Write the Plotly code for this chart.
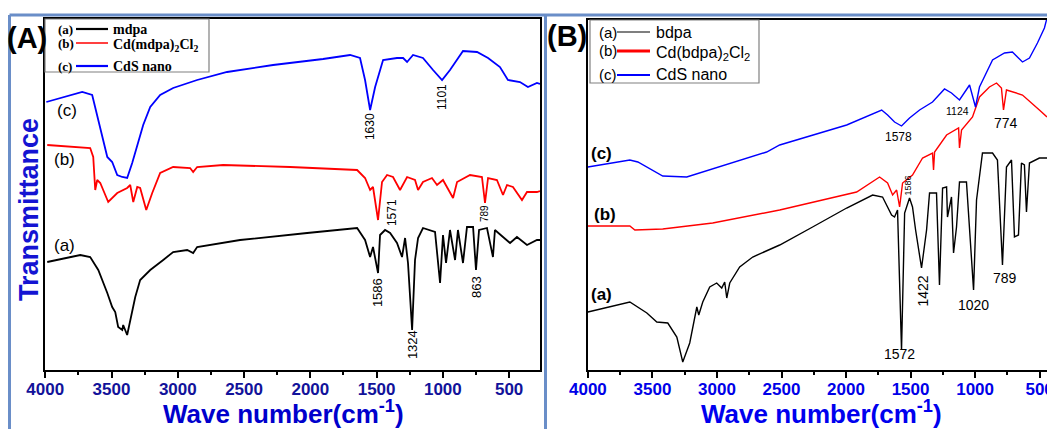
import plotly.graph_objects as go

W, H = 1047, 429

# ---------------- Panel A data (wavenumber cm-1, transmittance offset a.u.) ----------------
a_c_wn = [3992, 3887, 3721, 3646, 3600, 3563, 3532, 3495, 3457, 3419, 3382, 3344, 3306, 3261, 3208,
          3133, 3035, 2854, 2628, 2281, 1904, 1700, 1625, 1587, 1549, 1511, 1451, 1346, 1300, 1270,
          1225, 1150, 1074, 1006, 946, 848, 742, 659, 569, 509, 418, 358, 290, 267]
a_c_t = [268, 272, 278, 275, 250, 230, 213, 208, 195, 193, 192, 207, 225, 245, 263,
         275, 282, 290, 298, 305, 311, 315, 312, 290, 260, 283, 310, 312, 312, 308,
         315, 312, 300, 290, 300, 319, 318, 312, 303, 290, 288, 283, 287, 286]

a_b_wn = [3985, 3661, 3638, 3623, 3608, 3585, 3525, 3457, 3382, 3359, 3336, 3306, 3284, 3238, 3193,
          3133, 3035, 2907, 2884, 2854, 2658, 2152, 1647, 1587, 1549, 1527, 1489, 1459, 1421, 1376,
          1323, 1270, 1210, 1187, 1150, 1082, 1044, 999, 923, 893, 795, 705, 682, 659, 592,
          546, 516, 471, 403, 365, 290, 267]
a_b_t = [225, 222, 213, 180, 190, 187, 168, 177, 182, 185, 168, 183, 182, 160, 177,
         197, 203, 202, 198, 203, 205, 203, 200, 192, 180, 183, 150, 188, 195, 193,
         180, 193, 190, 180, 188, 192, 185, 190, 172, 188, 195, 193, 167, 192, 190,
         175, 185, 183, 170, 178, 178, 179]

a_a_wn = [3985, 3736, 3661, 3600, 3532, 3495, 3472, 3450, 3419, 3412, 3382, 3359, 3321, 3284, 3208,
          3110, 3035, 2929, 2884, 2854, 2530, 2024, 1647, 1587, 1549, 1527, 1489, 1474, 1436, 1398,
          1346, 1308, 1285, 1263, 1232, 1210, 1187, 1150, 1059, 1021, 999, 976, 946, 908, 886,
          848, 818, 772, 750, 727, 667, 622, 607, 546, 493, 441, 365, 290, 267]
a_a_t = [108, 115, 113, 100, 77, 63, 58, 43, 40, 45, 35, 50, 73, 90, 100,
         110, 118, 120, 117, 123, 130, 137, 142, 130, 113, 123, 97, 135, 140, 137,
         127, 113, 132, 107, 40, 110, 132, 142, 138, 87, 135, 107, 140, 110, 140,
         107, 143, 143, 100, 140, 142, 113, 140, 133, 127, 133, 125, 130, 130]

# peak labels panel A
a_peak_text = ["1630", "1101", "1571", "789", "1586", "1324", "863"]
a_peak_wn = [1549, 1006, 1383, 682, 1496, 1232, 750]
a_peak_t = [243, 273, 157, 156, 77, 25, 83]
a_peak_size = [12, 12, 12, 10, 13, 13, 13]

a_curve_lbl = ["(c)", "(b)", "(a)"]
a_curve_wn = [3834, 3857, 3857]
a_curve_t = [259, 210, 124]

# ---------------- Panel B data ----------------
b_c_wn = [4000, 3675, 3613, 3420, 3234, 3110, 2955, 2769, 2615, 2514, 2259, 1995, 1724, 1678, 1624,
          1570, 1508, 1430, 1330, 1237, 1183, 1121, 1043, 997, 966, 865, 772, 711, 672, 633,
          579, 517, 463, 443]
b_c_t = [203, 210, 208, 194, 193, 198, 205, 212, 218, 225, 235, 245, 260, 255, 248,
         244, 252, 260, 268, 281, 277, 270, 285, 263, 283, 310, 317, 318, 313, 308,
         312, 327, 342, 352]

b_b_wn = [4000, 3675, 3636, 3420, 3033, 2514, 1918, 1740, 1678, 1639, 1608, 1585, 1562, 1485, 1407,
          1330, 1322, 1314, 1221, 1128, 1121, 1105, 1020, 966, 889, 834, 796, 780, 757, 633,
          502, 443]
b_b_t = [144, 144, 140, 141, 147, 160, 178, 193, 187, 175, 180, 163, 187, 195, 212,
         217, 200, 218, 235, 242, 222, 240, 253, 273, 283, 287, 282, 260, 280, 275,
         260, 253]

b_a_wn = [4000, 3675, 3543, 3466, 3381, 3311, 3265, 3211, 3156, 3141, 3110, 3056, 3002, 2963, 2940,
          2924, 2901, 2824, 2723, 2514, 2259, 1995, 1794, 1717, 1647, 1624, 1601, 1570, 1546, 1508,
          1485, 1461, 1415, 1376, 1353, 1299, 1276, 1252, 1221, 1214, 1183, 1167, 1144, 1121, 1067,
          1028, 1012, 989, 943, 865, 827, 796, 788, 757, 718, 695, 664, 641, 618, 602,
          579, 502, 443]
b_a_t = [58, 68, 57, 48, 47, 33, 8, 27, 63, 55, 68, 83, 87, 82, 88,
         72, 87, 103, 113, 125, 143, 162, 175, 173, 155, 153, 160, 20, 157, 172,
         163, 140, 102, 140, 177, 177, 85, 182, 183, 153, 173, 117, 143, 188, 188,
         103, 80, 170, 217, 217, 210, 127, 105, 203, 210, 133, 135, 207, 205, 158,
         207, 212, 212]

b_peak_text = ["1578", "1124", "774", "1586", "1572", "1422", "1020", "789"]
b_peak_wn = [1593, 1136, 757, 1523, 1585, 1407, 1012, 765]
b_peak_t = [233, 259, 247, 184, 16, 79, 65, 92]
b_peak_angle = [0, 0, 0, -90, 0, -90, 0, 0]
b_peak_size = [12, 10.5, 14, 9, 14, 14, 14, 14]

b_curve_lbl = ["(c)", "(b)", "(a)"]
b_curve_wn = [3892, 3868, 3892]
b_curve_t = [217, 156, 76]

tick_vals = [4000, 3500, 3000, 2500, 2000, 1500, 1000, 500]
tick_text = ["4000", "3500", "3000", "2500", "2000", "1500", "1000", "500"]
minor_vals = [3750, 3250, 2750, 2250, 1750, 1250, 750]

SANS = "Liberation Sans, Arial, sans-serif"
SERIF = "Liberation Serif, Times New Roman, serif"


def X(p):
    return p / W


def Y(p):
    return 1 - p / H


fig = go.Figure()

for wn, t, col in [(a_a_wn, a_a_t, "#000000"), (a_b_wn, a_b_t, "#ff0000"), (a_c_wn, a_c_t, "#0000ff")]:
    fig.add_trace(go.Scatter(x=wn, y=t, mode="lines", line=dict(color=col, width=1.8),
                             xaxis="x", yaxis="y", showlegend=False, hoverinfo="skip"))
for wn, t, col in [(b_a_wn, b_a_t, "#000000"), (b_b_wn, b_b_t, "#ff0000"), (b_c_wn, b_c_t, "#0000ff")]:
    fig.add_trace(go.Scatter(x=wn, y=t, mode="lines", line=dict(color=col, width=1.4),
                             xaxis="x2", yaxis="y2", showlegend=False, hoverinfo="skip"))


def xaxis(domain, rng, anchor, color):
    return dict(domain=domain, range=rng, anchor=anchor, tickmode="array", tickvals=tick_vals,
                ticktext=tick_text, ticks="outside", ticklen=6, tickwidth=1.5, tickcolor="black",
                minor=dict(ticks="outside", ticklen=3, tickwidth=1.5, tickcolor="black",
                           tickmode="array", tickvals=minor_vals),
                tickfont=dict(family=SANS, size=17, color=color, weight="bold"),
                ticklabeloverflow="allow", ticklabelstandoff=-3,
                showline=True, linecolor="black", linewidth=1.5, mirror=True,
                showgrid=False, zeroline=False, automargin=False, fixedrange=True)


def yaxis(domain, rng, anchor, mirror):
    return dict(domain=domain, range=rng, anchor=anchor, showticklabels=False, ticks="",
                showline=True, linecolor="black", linewidth=1.5, mirror=mirror,
                showgrid=False, zeroline=False, automargin=False, fixedrange=True)


ybot = Y(370)
fig.update_layout(
    width=W, height=H, margin=dict(l=0, r=0, t=0, b=0),
    paper_bgcolor="white", plot_bgcolor="white",
    xaxis=xaxis([X(45), X(540)], [4002, 267], "y", "#12129a"),
    yaxis=yaxis([ybot, Y(19)], [0, 351], "x", True),
    xaxis2=xaxis([X(587.5), 1.0], [4003, 443], "y2", "#0000e8"),
    yaxis2=yaxis([ybot, Y(20)], [0, 350], "x2", True),
)

shapes = []
frame = "#6a8ec8"
shapes.append(dict(type="line", xref="paper", yref="paper", x0=X(9.5), x1=X(9.5), y0=Y(15), y1=0,
                   line=dict(color=frame, width=3)))
shapes.append(dict(type="line", xref="paper", yref="paper", x0=X(9.5), x1=1, y0=Y(15), y1=Y(15),
                   line=dict(color=frame, width=3)))
shapes.append(dict(type="line", xref="paper", yref="paper", x0=X(545.5), x1=X(545.5), y0=Y(15), y1=0,
                   line=dict(color=frame, width=3)))
# legend boxes
shapes.append(dict(type="rect", xref="paper", yref="paper", x0=X(45), x1=X(209), y0=Y(72), y1=Y(19),
                   line=dict(color="#808080", width=1.2), fillcolor="white"))
shapes.append(dict(type="rect", xref="paper", yref="paper", x0=X(590), x1=X(759), y0=Y(83), y1=Y(20),
                   line=dict(color="#808080", width=1.2), fillcolor="white"))

ann = []


def A(text, x, y, font, xref="paper", yref="paper", xanchor="center", yanchor="middle", angle=0):
    ann.append(dict(text=text, x=x, y=y, xref=xref, yref=yref, xanchor=xanchor, yanchor=yanchor,
                    showarrow=False, textangle=angle, font=font))


# legend A
legA_names = ["mdpa", "Cd(mdpa)<sub>2</sub>Cl<sub>2</sub>", "CdS nano"]
legA_tags = ["(a)", "(b)", "(c)"]
legA_cols = ["#000000", "#ff0000", "#0000ff"]
legA_y = [29, 43, 66]
legA_w = [2.2, 1.5, 2.2]
for tag, name, col, yy, lw in zip(legA_tags, legA_names, legA_cols, legA_y, legA_w):
    shapes.append(dict(type="line", xref="paper", yref="paper", x0=X(76), x1=X(108), y0=Y(yy), y1=Y(yy),
                       line=dict(color=col, width=lw)))
    A(tag, X(56), Y(yy), dict(family=SERIF, size=13, color="black", weight="bold"), xanchor="left")
    A(name, X(111), Y(yy) - (0.005 if "sub" in name else 0),
      dict(family=SERIF, size=14, color="black", weight="bold"), xanchor="left")
# legend B
legB_names = ["bdpa", "Cd(bdpa)<sub>2</sub>Cl<sub>2</sub>", "CdS nano"]
legB_y = [32, 51, 75]
legB_w = [1.2, 3, 1.8]
for tag, name, col, yy, lw in zip(legA_tags, legB_names, legA_cols, legB_y, legB_w):
    shapes.append(dict(type="line", xref="paper", yref="paper", x0=X(617), x1=X(650), y0=Y(yy), y1=Y(yy),
                       line=dict(color=col, width=lw)))
    A(tag, X(597), Y(yy), dict(family=SANS, size=15, color="black"), xanchor="left")
    A(name, X(654), Y(yy) - (0.005 if "sub" in name else 0),
      dict(family=SANS, size=16, color="black"), xanchor="left")

# panel letters and titles
A("<b>(A)</b>", X(27), Y(38), dict(family=SANS, size=29, color="black"))
A("<b>(B)</b>", X(567), Y(36), dict(family=SANS, size=29, color="black"))
A("<b>Transmittance</b>", X(29), Y(210), dict(family=SANS, size=27, color="#1414d2"), angle=-90)
A("<b>Wave number(cm<sup>-1</sup>)</b>", X(283), Y(412), dict(family=SANS, size=26, color="#0000cc"))
A("<b>Wave number(cm<sup>-1</sup>)</b>", X(821), Y(412), dict(family=SANS, size=26, color="#0000ee"))

for t, wn, tv, sz in zip(a_peak_text, a_peak_wn, a_peak_t, a_peak_size):
    A(t, wn, tv, dict(family=SANS, size=sz, color="black"), xref="x", yref="y", angle=-90)
for t, wn, tv in zip(a_curve_lbl, a_curve_wn, a_curve_t):
    A(t, wn, tv, dict(family=SANS, size=17, color="black"), xref="x", yref="y")
for t, wn, tv, ang, sz in zip(b_peak_text, b_peak_wn, b_peak_t, b_peak_angle, b_peak_size):
    A(t, wn, tv, dict(family=SANS, size=sz, color="black"), xref="x2", yref="y2", angle=ang)
for t, wn, tv in zip(b_curve_lbl, b_curve_wn, b_curve_t):
    A("<b>" + t + "</b>", wn, tv, dict(family=SANS, size=17, color="black"), xref="x2", yref="y2")

fig.update_layout(shapes=shapes, annotations=ann)
fig.write_html("out.html")
